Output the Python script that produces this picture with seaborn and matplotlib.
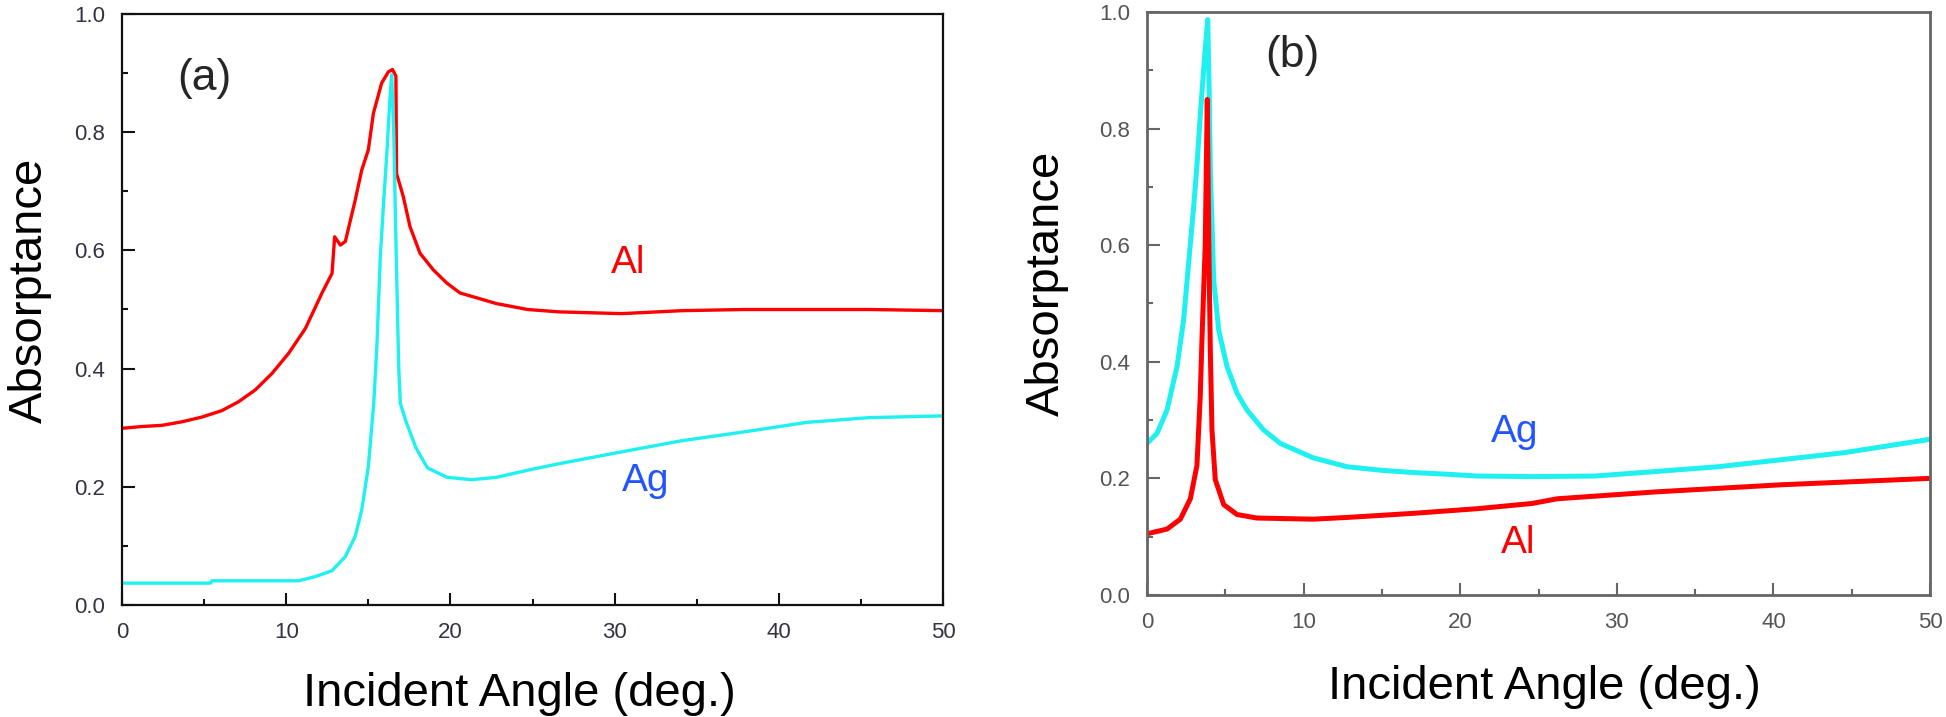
import matplotlib
matplotlib.use("Agg")
import matplotlib.pyplot as plt
import seaborn as sns
from matplotlib.ticker import MultipleLocator

# Panel (a) values
a_al_x = [0, 1.22, 2.44, 3.65, 4.87, 6.09, 7.1, 8.12, 9.14, 10.15, 11.17, 12.18, 12.79, 12.95,
          13.3, 13.6, 14.2, 14.6, 15.0, 15.31, 15.81, 16.22, 16.47, 16.68, 16.72, 17.13, 17.54,
          18.15, 18.96, 19.77, 20.58, 22.8, 24.7, 26.6, 30.4, 34.1, 37.9, 45.5, 50]
a_al_y = [0.299, 0.302, 0.304, 0.31, 0.318, 0.329, 0.344, 0.364, 0.392, 0.426, 0.468, 0.528, 0.561,
          0.623, 0.609, 0.615, 0.685, 0.736, 0.77, 0.832, 0.883, 0.902, 0.906, 0.895, 0.73, 0.691,
          0.64, 0.595, 0.567, 0.545, 0.528, 0.51, 0.5, 0.496, 0.493, 0.498, 0.5, 0.5, 0.498]

a_ag_x = [0, 5.38, 5.48, 10.76, 11.77, 12.79, 13.6, 14.2, 14.6, 15.0, 15.33, 15.53, 15.73, 15.94,
          16.14, 16.3, 16.42, 16.55, 16.65, 16.85, 16.95, 17.3, 17.9, 18.6, 19.8, 21.3, 22.8, 24.7,
          26.6, 30.4, 34.1, 37.9, 41.7, 45.5, 50]
a_ag_y = [0.037, 0.037, 0.041, 0.041, 0.048, 0.058, 0.082, 0.116, 0.161, 0.234, 0.341, 0.443, 0.589,
          0.685, 0.77, 0.85, 0.897, 0.8, 0.657, 0.403, 0.341, 0.31, 0.266, 0.232, 0.216, 0.212,
          0.216, 0.228, 0.239, 0.259, 0.278, 0.293, 0.309, 0.317, 0.32]

# Panel (b) values
b_ag_x = [0, 0.64, 1.28, 1.92, 2.34, 2.66, 2.98, 3.2, 3.45, 3.7, 3.88, 3.98, 4.05, 4.15, 4.26,
          4.58, 5.11, 5.75, 6.39, 7.45, 8.51, 10.64, 12.77, 14.9, 17.0, 19.2, 21.1, 24.6, 28.6,
          32.6, 36.5, 40.5, 44.5, 50]
b_ag_y = [0.26, 0.277, 0.317, 0.392, 0.472, 0.569, 0.666, 0.74, 0.84, 0.93, 0.987, 0.85, 0.72,
          0.64, 0.54, 0.454, 0.392, 0.346, 0.317, 0.283, 0.26, 0.235, 0.22, 0.214, 0.21, 0.207,
          0.204, 0.203, 0.204, 0.212, 0.22, 0.232, 0.244, 0.267]

b_al_x = [0, 1.28, 2.13, 2.77, 3.19, 3.4, 3.51, 3.72, 3.85, 3.95, 4.04, 4.15, 4.36, 4.9, 5.75, 7.0,
          10.6, 12.8, 17.0, 21.1, 24.6, 26.2, 32.6, 40.5, 50]
b_al_y = [0.105, 0.113, 0.13, 0.165, 0.222, 0.34, 0.437, 0.6, 0.85, 0.6, 0.426, 0.283, 0.198, 0.155,
          0.138, 0.132, 0.13, 0.133, 0.14, 0.148, 0.157, 0.165, 0.177, 0.189, 0.2]

RED = "#ff0000"
CYAN = "#1ff0f0"
BLUE = "#2255ff"

sns.set_theme(style="ticks")
plt.rcParams["font.family"] = ["Liberation Sans", "DejaVu Sans"]

fig = plt.figure(figsize=(19.46, 7.17), dpi=100)
ax_a = fig.add_axes([0.0627, 0.1562, 0.4219, 0.8243])
ax_b = fig.add_axes([0.5894, 0.1702, 0.4024, 0.8131])


def style_axes(ax, spine_col, label_col, lw_spine):
    ax.set_xlim(0, 50)
    ax.set_ylim(0, 1.0)
    ax.xaxis.set_major_locator(MultipleLocator(10))
    ax.xaxis.set_minor_locator(MultipleLocator(5))
    ax.yaxis.set_major_locator(MultipleLocator(0.2))
    ax.yaxis.set_minor_locator(MultipleLocator(0.1))
    ax.yaxis.set_major_formatter(plt.FormatStrFormatter("%.1f"))
    for s in ax.spines.values():
        s.set_color(spine_col)
        s.set_linewidth(lw_spine)
    ax.tick_params(which="major", direction="in", length=9, width=1.5, color=spine_col,
                   labelsize=16, labelcolor=label_col, pad=12, top=False, right=False)
    ax.tick_params(which="minor", direction="in", length=4, width=1.5, color=spine_col,
                   top=False, right=False)
    ax.set_xlabel("Incident Angle (deg.)", fontsize=34, color="black")
    ax.set_ylabel("Absorptance", fontsize=34, color="black")


# Panel (a)
sns.lineplot(x=a_al_x, y=a_al_y, ax=ax_a, color=RED, lw=2.4, estimator=None, sort=False)
sns.lineplot(x=a_ag_x, y=a_ag_y, ax=ax_a, color=CYAN, lw=2.4, estimator=None, sort=False)
style_axes(ax_a, "#111111", "#333344", 1.6)
ax_a.xaxis.set_label_coords(0.484, -0.113)
ax_a.yaxis.set_label_coords(-0.086, 0.533)
ax_a.text(5.0, 0.89, "(a)", fontsize=32, ha="center", va="center")
ax_a.text(30.8, 0.579, "Al", fontsize=28, color=RED, ha="center", va="center")
ax_a.text(31.9, 0.21, "Ag", fontsize=28, color=BLUE, ha="center", va="center")

# Panel (b)
sns.lineplot(x=b_ag_x, y=b_ag_y, ax=ax_b, color=CYAN, lw=3.6, estimator=None, sort=False)
sns.lineplot(x=b_al_x, y=b_al_y, ax=ax_b, color=RED, lw=3.6, estimator=None, sort=False)
style_axes(ax_b, "#666666", "#555555", 2.0)
ax_b.xaxis.set_label_coords(0.508, -0.12)
ax_b.yaxis.set_label_coords(-0.100, 0.535)
ax_b.text(9.26, 0.926, "(b)", fontsize=32, ha="center", va="center")
ax_b.text(23.5, 0.28, "Ag", fontsize=28, color=BLUE, ha="center", va="center")
ax_b.text(23.7, 0.089, "Al", fontsize=28, color=RED, ha="center", va="center")

fig.savefig("out.png", dpi=100)
